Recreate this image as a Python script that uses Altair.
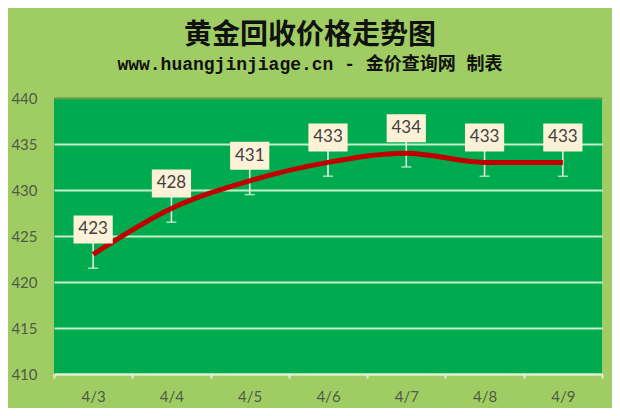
import altair as alt
import pandas as pd

dates = ["4/3", "4/4", "4/5", "4/6", "4/7", "4/8", "4/9"]
prices = [423, 428, 431, 433, 434, 433, 433]
err_low = [421.5, 426.5, 429.5, 431.5, 432.5, 431.5, 431.5]
err_high = [424.5, 429.5, 432.5, 434.5, 435.5, 434.5, 434.5]
y_ticks = [410, 415, 420, 425, 430, 435, 440]

df = pd.DataFrame({"date": dates, "price": prices, "lo": err_low, "hi": err_high})

LABEL = "#4f5b44"
x = alt.X(
    "date:N", sort=dates,
    scale=alt.Scale(type="band", paddingInner=0, paddingOuter=0),
    axis=alt.Axis(title=None, labelAngle=0, tickBand="extent", domainColor="#e6efcf",
                  tickColor="#e6efcf", tickSize=4, domainWidth=2, tickWidth=2,
                  labelColor=LABEL, labelFont="Lato", labelFontSize=15, labelPadding=11, grid=False),
)
yscale = alt.Scale(domain=[410, 440], nice=False, zero=False)

base = alt.Chart(df).encode(x=x)

grid_axis = alt.Axis(
    title=None, values=y_ticks, ticks=False, domain=False, labelColor=LABEL, labelFont="Lato",
    labelFontSize=15, labelPadding=17, grid=True, gridWidth=2,
    gridColor=alt.condition("datum.value == 440", alt.value("#5e9c45"), alt.value("#c4f2cc")),
)

rules = base.mark_rule(color="#f2f5e8", strokeWidth=1.5).encode(
    y=alt.Y("lo:Q", scale=yscale, axis=grid_axis), y2="hi:Q")
caps_lo = base.mark_tick(color="#f2f5e8", thickness=1.5, size=10).encode(y=alt.Y("lo:Q", scale=yscale))
caps_hi = base.mark_tick(color="#f2f5e8", thickness=1.5, size=10).encode(y=alt.Y("hi:Q", scale=yscale))
line = base.mark_line(color="#c00000", strokeWidth=5, interpolate="monotone").encode(
    y=alt.Y("price:Q", scale=yscale))
boxes = base.mark_point(shape="M-1.4,-1H1.4V1H-1.4Z", size=784, filled=True, fill="#fdf2d8",
                        opacity=1, strokeWidth=0, yOffset=-25).encode(y=alt.Y("price:Q", scale=yscale))
labels = base.mark_text(font="Lato", fontSize=17, color="#404040", yOffset=-25, baseline="middle").encode(
    y=alt.Y("price:Q", scale=yscale), text="price:Q")

chart = alt.layer(rules, caps_lo, caps_hi, line, boxes, labels).properties(
    width=548, height=276,
    autosize=alt.AutoSizeParams(type="none"),
    padding={"left": 46, "top": 90, "right": 10, "bottom": 34},
    background="#9fcd63",
    title=alt.TitleParams(
        text="黄金回收价格走势图",
        subtitle="www.huangjinjiage.cn - 金价查询网 制表",
        anchor="middle", dx=-18, offset=17,
        font="Noto Sans CJK SC", fontSize=28, fontWeight="bold", color="#111111",
        subtitleFont="Liberation Mono, Noto Sans CJK SC", subtitleFontSize=18,
        subtitleFontWeight="bold", subtitleColor="#111111", subtitlePadding=6,
    ),
).configure_view(fill="#00ab4f", stroke=None)

chart.save("out.html", embed_options={"renderer": "svg", "actions": False})
